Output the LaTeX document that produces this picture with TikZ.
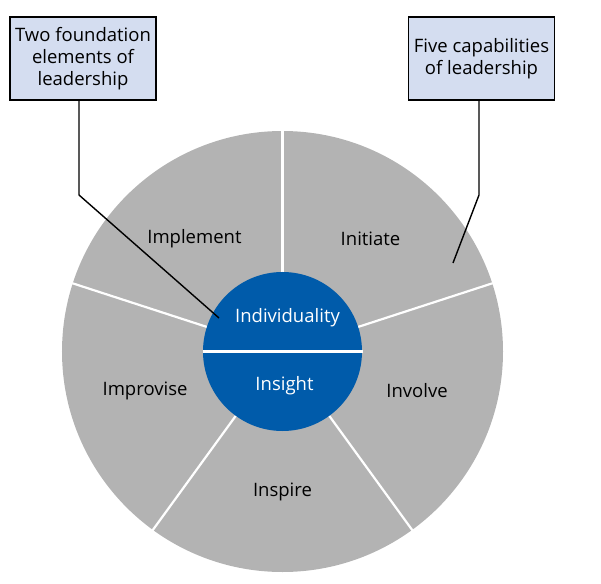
\documentclass[tikz,border=0pt]{standalone}
\usepackage{fontspec}
\setmainfont{Open Sans}
\definecolor{wheelgrey}{HTML}{B3B3B3}
\definecolor{coreblue}{HTML}{005BAA}
\definecolor{calloutfill}{HTML}{D4DDF0}

\begin{document}
\begin{tikzpicture}[x=1pt, y=1pt, font=\fontsize{18.5}{21.7}\selectfont,
  callout/.style={draw, line width=1.6pt, fill=calloutfill, align=center,
    minimum width=146, minimum height=83, inner sep=2pt},
  pointer/.style={line width=1.4pt}]
  \useasboundingbox (-282.5,-231.5) rectangle (318.5,351.5);

  % Wheel
  \fill[wheelgrey] (0,0) circle (220.5);
  \foreach \a in {18,90,162,234,306}
    \draw[white, line width=2.2pt] (0,0) -- (\a:221);

  % Capabilities
  \node (implement) at (128:143) {Implement};
  \node (initiate)  at (52:143)  {Initiate};
  \node (improvise) at (196:143) {Improvise};
  \node (involve)   at (344:140) {Involve};
  \node (inspire)   at (270:140) {Inspire};

  % Core
  \fill[coreblue] (0,0) circle (79.5);
  \draw[white, line width=2.4pt] (-80,0) -- (80,0);
  \node[white] (individuality) at (5,34) {Individuality};
  \node[white] (insight) at (2,-34) {Insight};

  % Callouts
  \node[callout] (foundation) at (-199.5,293) {Two foundation\\elements of\\leadership};
  \node[callout] (capabilities) at (199,293) {Five capabilities\\of leadership};

  \coordinate (foundationbend) at (-203.5,156.5);
  \coordinate (foundationtip) at (-63.5,33.5);
  \coordinate (capabilitiesbend) at (196.5,156.5);
  \coordinate (capabilitiestip) at (170.5,88.5);

  \draw[pointer] ([xshift=-4pt]foundation.south) -- (foundationbend) -- (foundationtip);
  \draw[pointer] ([xshift=-2.5pt]capabilities.south) -- (capabilitiesbend) -- (capabilitiestip);
\end{tikzpicture}
\end{document}
